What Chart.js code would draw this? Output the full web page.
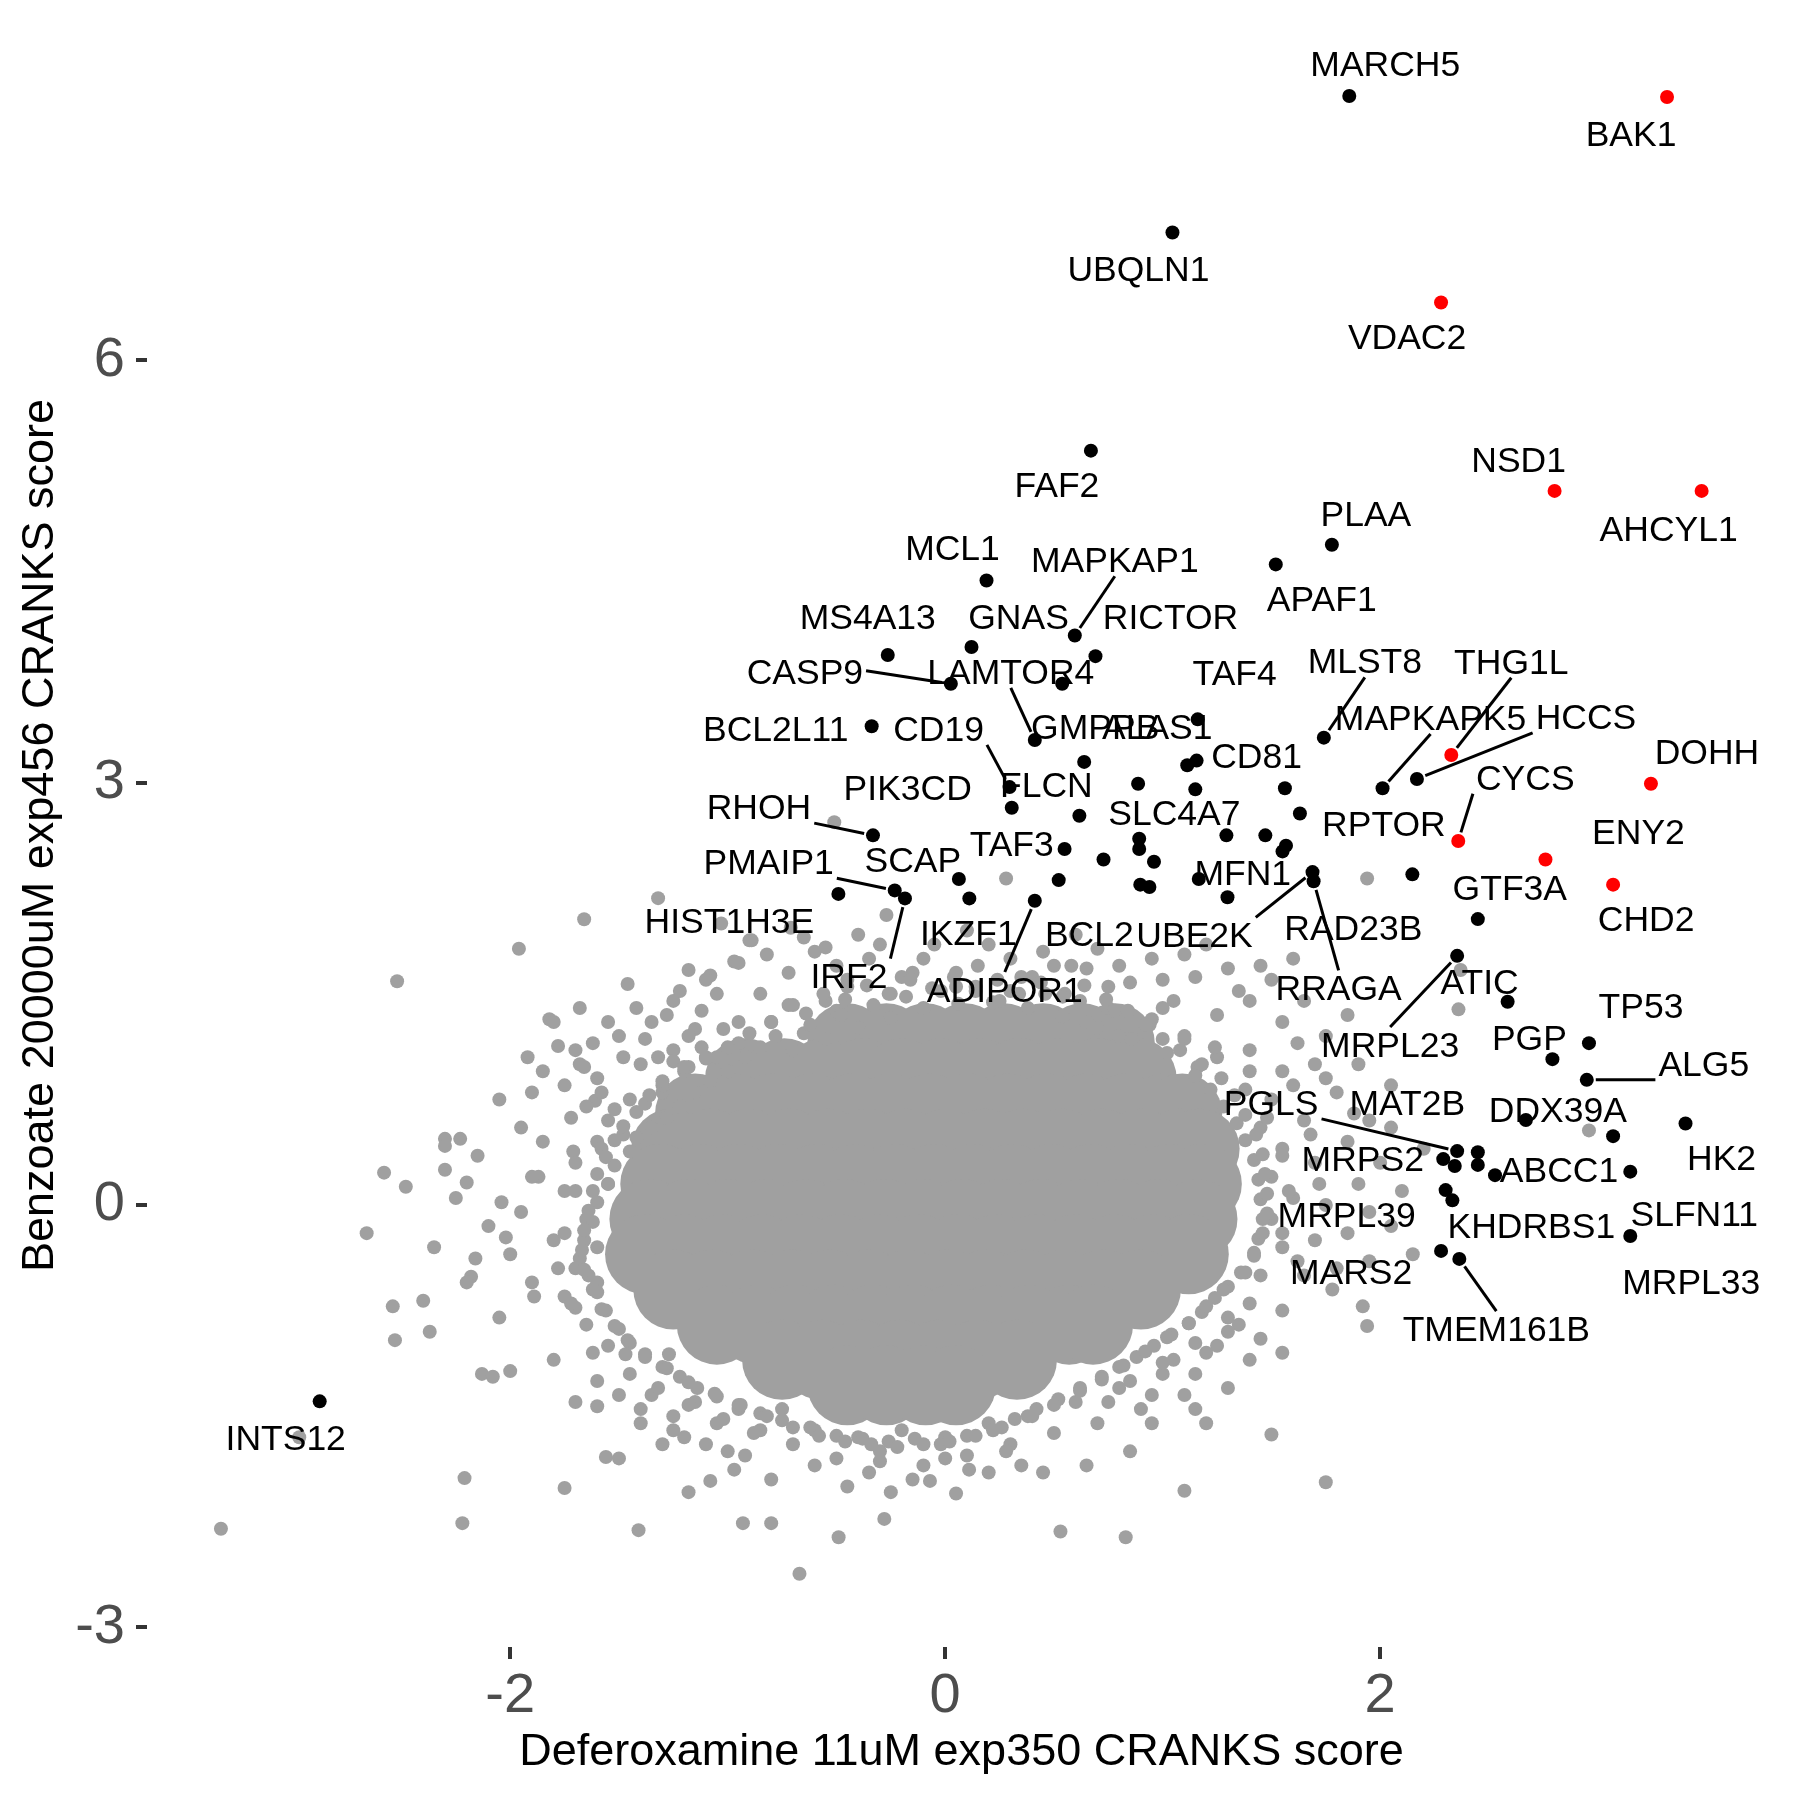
<!DOCTYPE html>
<html lang="en">
<head>
<meta charset="UTF-8">
<title>CRANKS score comparison</title>
<script src="https://cdn.jsdelivr.net/npm/chart.js"></script>
<style>
  html, body { margin: 0; padding: 0; background: #fff; }
  #wrap { width: 1800px; height: 1800px; }
</style>
</head>
<body>
<div id="wrap"><canvas id="scatter" width="1800" height="1800"></canvas></div>
<script>
// axis ticks
const xTicks = [-2, 0, 2];
const yTicks = [-3, 0, 3, 6];

// highlighted genes (x = Deferoxamine score, y = Benzoate score)
const geneNames = ['MARCH5', 'BAK1', 'UBQLN1', 'VDAC2', 'FAF2', 'NSD1', 'AHCYL1', 'PLAA', 'APAF1', 'MCL1',
  'MAPKAP1', 'GNAS', 'MS4A13', 'RICTOR', 'CASP9', 'LAMTOR4', 'TAF4', 'BCL2L11', 'GMPPB', 'MLST8',
  'THG1L', 'ALAS1', 'CD81', 'HCCS', 'DOHH', 'CD19', 'MAPKAPK5', 'PIK3CD', 'FLCN', 'RPTOR',
  'SLC4A7', 'RHOH', 'CYCS', 'ENY2', 'TAF3', 'SCAP', 'MFN1', 'RAD23B', 'UBE2K', 'RRAGA',
  'CHD2', 'BCL2', 'PMAIP1', 'HIST1H3E', 'IRF2', 'IKZF1', 'ADIPOR1', 'GTF3A', 'MRPL23', 'ATIC',
  'TP53', 'PGP', 'ALG5', 'DDX39A', 'HK2', 'PGLS', 'MAT2B', 'MRPS2', 'ABCC1', 'SLFN11',
  'MRPL39', 'KHDRBS1', 'MRPL33', 'MARS2', 'TMEM161B', 'INTS12'];
const geneX = [1.858, 3.319, 1.045, 2.280, 0.670, 2.802, 3.478, 1.778, 1.520, 0.190,
  0.596, 0.121, -0.264, 0.691, 0.026, 0.412, 1.161, -0.338, 0.538, 1.741,
  2.327, 1.113, 1.156, 2.169, 3.245, 0.296, 2.011, 0.306, 0.617, 1.631,
  1.293, -0.332, 2.359, 2.760, 0.522, 0.063, 1.166, 2.148, 1.689, 1.694,
  3.071, 0.897, -0.232, -0.491, -0.185, 0.111, 0.412, 2.449, 2.354, 2.586,
  2.960, 2.792, 2.950, 2.670, 3.404, 2.354, 2.290, 2.343, 2.528, 3.150,
  2.301, 2.332, 3.150, 2.280, 2.364, -2.876];
const geneY = [7.879, 7.871, 6.909, 6.411, 5.359, 5.073, 5.073, 4.690, 4.551, 4.437,
  4.046, 3.964, 3.907, 3.899, 3.703, 3.303, 3.450, 3.401, 3.703, 3.320,
  3.197, 3.124, 3.157, 3.026, 2.993, 2.969, 2.961, 2.822, 2.765, 2.781,
  2.626, 2.626, 2.586, 2.455, 2.308, 2.316, 2.316, 2.349, 2.365, 2.300,
  2.276, 2.276, 2.235, 2.210, 2.178, 2.178, 2.161, 2.031, 1.770, 1.444,
  1.150, 1.036, 0.889, 0.604, 0.579, 0.383, 0.326, 0.277, 0.212, 0.237,
  0.106, 0.033, -0.220, -0.326, -0.383, -1.395];
const redGenes = ['BAK1', 'VDAC2', 'NSD1', 'AHCYL1', 'THG1L', 'DOHH', 'CYCS', 'ENY2', 'CHD2'];

// hits whose labels were dropped
const extraHitX = [0.639, 0.887, 1.150, 1.562, 1.472, 0.549, 0.892, 0.892, 1.551, 1.567,
  0.728, 0.960, 0.939, 1.298, 2.449, 2.449, 3.071];
const extraHitY = [3.148, 2.993, 2.953, 2.961, 2.626, 2.529, 2.602, 2.529, 2.512, 2.553,
  2.455, 2.439, 2.259, 2.186, 0.375, 0.285, 0.489];

// the solid centre of the background cloud, one row per y value
const coreRows = [
  [1.15, [-0.45, -0.27, -0.09, 0.09, 0.27, 0.45, 0.63, 0.78]],
  [0.90, [-0.92, -0.74, -0.56, -0.38, -0.20, -0.02, 0.16, 0.34, 0.52, 0.70, 0.88]],
  [0.65, [-1.15, -0.97, -0.79, -0.61, -0.43, -0.25, -0.07, 0.11, 0.29, 0.47, 0.65, 0.83, 1.01, 1.09]],
  [0.40, [-1.26, -1.08, -0.90, -0.72, -0.54, -0.36, -0.18, 0.00, 0.18, 0.36, 0.54, 0.72, 0.90, 1.08, 1.17]],
  [0.15, [-1.31, -1.13, -0.95, -0.77, -0.59, -0.41, -0.23, -0.05, 0.13, 0.31, 0.49, 0.67, 0.85, 1.03, 1.18]],
  [-0.10, [-1.36, -1.18, -1.00, -0.82, -0.64, -0.46, -0.28, -0.10, 0.08, 0.26, 0.44, 0.62, 0.80, 0.98, 1.16]],
  [-0.35, [-1.38, -1.20, -1.02, -0.84, -0.66, -0.48, -0.30, -0.12, 0.06, 0.24, 0.42, 0.60, 0.78, 0.96, 1.12]],
  [-0.60, [-1.25, -1.07, -0.89, -0.71, -0.53, -0.35, -0.17, 0.01, 0.19, 0.37, 0.55, 0.73, 0.90]],
  [-0.85, [-1.05, -0.87, -0.69, -0.51, -0.33, -0.15, 0.03, 0.21, 0.39, 0.57, 0.68]],
  [-1.10, [-0.75, -0.57, -0.39, -0.21, -0.03, 0.15, 0.33]],
  [-1.28, [-0.45, -0.27, -0.09, 0.05]]
];

// background genes around the centre
const backgroundGenes = [
  // far outliers
  [-3.33, -2.30], [-2.97, -1.65], [-2.66, -0.20], [-2.58, 0.23], [-2.48, 0.13], [-2.52, 1.59], [-2.22, -2.26], [-2.21, -1.94],
  [-2.54, -0.72], [-2.53, -0.96], [-2.40, -0.68], [-2.37, -0.90], [-2.30, 0.47], [-2.30, 0.42], [-2.23, 0.47], [-2.20, 0.16],
  [-2.18, -0.51], [-2.16, -0.38], [-2.13, -1.20], [-2.08, -1.22], [-1.96, 1.82], [-2.04, 0.02], [-2.02, -0.23], [-2.00, -1.18],
  [-1.89, -0.65], [-1.87, 0.20], [-1.82, 1.32], [-1.78, 1.13], [-1.75, -2.01], [-1.71, 0.38], [-1.70, -0.73], [-1.66, 2.03],
  [-1.66, 0.98], [-1.61, 0.74], [-1.60, -1.43], [-1.56, -1.79], [-1.47, -1.06], [-1.46, 1.57], [-1.41, -2.31], [-1.32, 2.18],
  [-1.27, -1.06], [-1.20, -1.65], [-1.18, -2.04], [-1.08, -1.96], [-0.97, -1.88], [-0.93, -2.26], [-0.80, -2.26], [-0.67, -2.62],
  [-0.49, -2.36], [-0.28, -2.23], [-0.25, -2.04], [-0.07, -1.96], [0.11, -1.88], [0.53, -2.32], [0.83, -2.36], [1.10, -2.03],
  [1.50, -1.63], [1.75, -1.97], [1.94, -0.86], [1.92, -0.72], [1.94, 2.32], [-0.51, 2.72], [-1.03, 2.00], [-0.89, 1.88],
  [-0.71, 1.97], [-0.55, 1.83], [-0.27, 2.06], [0.28, 2.32], [-1.18, 1.67], [-1.08, 1.63], [-0.97, 1.73], [2.36, 1.39],
  [2.37, 1.67], [2.96, 0.53],
  // upper band
  [-1.25, 1.45], [-1.10, 1.60], [-0.95, 1.72], [-0.85, 1.50], [-0.72, 1.65], [-0.60, 1.80], [-0.55, 1.45], [-0.45, 1.60],
  [-0.35, 1.75], [-0.25, 1.50], [-0.15, 1.65], [-0.05, 1.85], [0.05, 1.55], [0.15, 1.70], [0.25, 1.45], [0.35, 1.62],
  [0.45, 1.80], [0.55, 1.50], [0.65, 1.68], [0.75, 1.40], [0.85, 1.58], [0.95, 1.75], [1.05, 1.45], [1.15, 1.62],
  [1.25, 1.35], [1.35, 1.52], [1.45, 1.70], [1.55, 1.30], [1.65, 1.45], [1.75, 1.20], [1.85, 1.35], [-0.90, 1.88],
  [0.10, 1.95], [0.60, 1.92], [1.20, 1.85], [1.60, 1.75], [-0.40, 1.92],
  [-0.95, 1.15], [-0.80, 1.30], [-0.65, 1.22], [-0.50, 1.38], [0.65, 1.30], [0.80, 1.20], [0.95, 1.32], [1.10, 1.18],
  [1.25, 1.05], [1.40, 1.10], [1.55, 0.95], [1.70, 1.00],
  [-0.82, 1.78], [-0.65, 1.90], [-0.50, 1.70], [-0.30, 1.85], [-0.10, 1.75], [0.20, 1.85], [0.30, 1.75], [0.50, 1.70],
  [0.70, 1.82], [0.80, 1.70], [1.00, 1.60], [1.10, 1.78], [1.30, 1.68], [1.40, 1.45], [1.50, 1.60],
  // upper left
  [-1.80, 1.30], [-1.70, 1.10], [-1.60, 0.90], [-1.50, 1.20], [-1.45, 0.75], [-1.40, 1.00], [-1.35, 1.30], [-1.30, 0.80],
  [-1.25, 1.10], [-1.20, 0.95], [-1.15, 1.25], [-1.10, 1.05], [-1.55, 0.60], [-1.65, 0.70], [-1.85, 0.95], [-1.95, 0.55],
  [-2.05, 0.75],
  [-1.75, 0.85], [-1.68, 1.00], [-1.62, 1.15], [-1.55, 1.30], [-1.48, 1.05], [-1.42, 1.40], [-1.38, 1.18], [-1.32, 1.05],
  [-1.28, 1.35], [-1.22, 1.52], [-1.18, 1.20], [-1.12, 1.38], [-1.05, 1.50], [-1.02, 1.25], [-1.58, 0.80], [-1.52, 0.68],
  [-1.72, 0.62], [-1.90, 0.80], [-1.92, 1.05], [-1.68, 1.40],
  // left
  [-1.60, 0.45], [-1.70, 0.30], [-1.75, 0.10], [-1.65, -0.10], [-1.80, -0.25], [-1.70, -0.45], [-1.75, -0.65], [-1.65, -0.85],
  [-1.90, 0.20], [-1.95, -0.05], [-2.00, -0.35], [-1.90, -0.55], [-2.05, -0.80], [-2.15, 0.35], [-2.10, -0.15], [-2.25, 0.05],
  [-2.20, -0.55], [-2.30, 0.25], [-2.35, -0.30], [-1.85, 0.45], [-1.60, -0.55], [-1.55, 0.15], [-1.60, -0.30],
  // lower left
  [-1.55, -1.00], [-1.45, -1.20], [-1.35, -1.35], [-1.25, -1.50], [-1.15, -1.40], [-1.05, -1.55], [-1.40, -1.55], [-1.60, -1.25],
  [-1.80, -1.10], [-1.70, -1.40], [-1.30, -1.70], [-1.00, -1.75], [-1.50, -1.80],
  [-1.62, -1.05], [-1.50, -1.35], [-1.40, -1.45], [-1.25, -1.60], [-1.10, -1.70], [-0.92, -1.78], [-0.60, -1.85], [-0.35, -1.90],
  [-0.15, -1.95], [0.20, -1.90], [0.35, -1.85],
  // bottom
  [-0.95, -1.45], [-0.85, -1.60], [-0.75, -1.45], [-0.70, -1.70], [-0.60, -1.60], [-0.50, -1.80], [-0.40, -1.65], [-0.30, -1.75],
  [-0.20, -1.60], [-0.10, -1.85], [0.00, -1.65], [0.10, -1.78], [0.20, -1.55], [0.30, -1.70], [0.40, -1.50], [0.50, -1.62],
  [0.60, -1.40], [0.70, -1.55], [0.80, -1.30], [0.90, -1.45], [1.00, -1.20], [1.10, -1.35], [-0.80, -1.95], [-0.45, -2.00],
  [0.05, -2.05], [0.45, -1.90], [0.85, -1.75], [1.20, -1.55], [0.65, -1.85],
  // lower right
  [0.75, -1.40], [0.85, -1.25], [0.95, -1.35], [1.05, -1.10], [1.15, -1.20], [1.25, -1.00], [1.35, -0.85], [1.40, -1.10],
  [1.30, -1.30], [1.15, -1.45], [0.95, -1.55], [1.45, -0.95], [1.55, -1.05],
  // right
  [1.40, 0.95], [1.50, 0.75], [1.45, 0.55], [1.55, 0.40], [1.50, 0.20], [1.60, 0.05], [1.50, -0.10], [1.55, -0.30],
  [1.45, -0.50], [1.40, -0.70], [1.30, -0.90], [1.20, -1.05], [1.65, 0.60], [1.70, 0.30], [1.75, 0.00], [1.70, -0.25],
  [1.65, -0.50], [1.55, -0.75], [1.80, 0.80], [1.85, 0.45], [1.90, 0.15], [1.85, -0.20], [1.80, -0.45], [1.95, 0.60],
  [2.00, 0.30], [2.10, 0.10], [2.05, -0.15], [1.95, -0.40], [1.90, 1.00], [2.05, 0.85], [2.20, 0.40], [2.15, -0.35],
  [1.60, 0.85], [1.68, 0.50], [1.72, 0.15], [1.62, -0.40], [1.78, -0.60], [1.88, 0.65], [1.95, -0.05], [2.05, 0.55],
  [1.62, 1.15], [1.75, 0.90],
  // ring hugging the centre
  [-0.92, 1.05], [-0.85, 1.12], [-0.78, 1.20], [-0.70, 1.10], [-0.62, 1.28], [-0.55, 1.18], [-0.48, 1.35], [-0.40, 1.26],
  [-0.33, 1.42], [-0.25, 1.33], [-0.18, 1.48], [-0.10, 1.40], [-0.02, 1.52], [0.06, 1.43], [0.14, 1.55], [0.22, 1.44],
  [0.30, 1.52], [0.38, 1.40], [0.46, 1.50], [0.54, 1.34], [0.62, 1.45], [0.70, 1.26], [0.78, 1.38], [0.86, 1.18],
  [0.94, 1.28], [1.02, 1.08], [1.10, 1.20], [1.16, 0.98], [1.24, 1.12], [-0.70, 1.42], [-0.45, 1.55], [0.05, 1.65],
  [0.40, 1.62], [0.75, 1.55], [1.00, 1.40], [-0.95, 1.30], [-0.20, 1.62], [0.58, 1.70],
  [-1.00, 0.95], [-1.08, 0.88], [-1.15, 0.80], [-1.22, 0.70], [-1.28, 0.62], [-1.05, 1.05], [-1.18, 0.98], [-1.30, 0.85],
  [-1.38, 0.72], [-1.35, 0.55], [-1.42, 0.48], [-1.12, 1.12], [-1.25, 1.02],
  [-1.45, 0.38], [-1.52, 0.28], [-1.55, 0.15], [-1.60, 0.02], [-1.62, -0.12], [-1.66, -0.25], [-1.68, -0.38], [-1.64, -0.50],
  [-1.60, -0.62], [-1.56, -0.75], [-1.50, -0.88], [-1.58, 0.40], [-1.70, 0.10], [-1.75, -0.20], [-1.78, -0.45], [-1.72, -0.70],
  [-1.48, 0.50],
  [-1.45, -0.98], [-1.38, -1.08], [-1.30, -1.15], [-1.22, -1.22], [-1.14, -1.30], [-1.05, -1.36], [-0.95, -1.42], [-0.85, -1.48],
  [-0.75, -1.53], [-1.32, -1.30], [-1.18, -1.42], [-1.02, -1.52], [-0.88, -1.62],
  [-0.62, -1.58], [-0.50, -1.64], [-0.38, -1.66], [-0.26, -1.68], [-0.14, -1.66], [-0.02, -1.70], [0.10, -1.64], [0.22, -1.60],
  [0.32, -1.52], [0.42, -1.45], [0.52, -1.38], [0.62, -1.30], [0.72, -1.22], [-0.30, -1.82], [0.00, -1.80], [0.28, -1.75],
  [0.80, -1.15], [0.88, -1.08], [0.96, -1.00], [1.04, -0.92], [1.12, -0.84], [1.18, -0.76], [1.24, -0.66], [1.30, -0.58],
  [1.00, -1.12], [1.15, -0.98], [1.30, -0.80],
  [1.38, -0.48], [1.42, -0.36], [1.44, -0.24], [1.46, -0.10], [1.45, 0.04], [1.44, 0.18], [1.42, 0.32], [1.38, 0.46],
  [1.34, 0.58], [1.28, 0.70], [1.22, 0.82], [1.15, 0.92], [1.55, -0.20], [1.58, 0.10], [1.55, 0.35], [1.48, 0.62],
  [1.38, 0.82],
  // outer edge of the dense part
  [-0.80, 1.30], [-0.72, 1.42], [-0.64, 1.36], [-0.56, 1.50], [-0.46, 1.46], [-0.36, 1.56], [-0.26, 1.50], [-0.16, 1.60],
  [-0.06, 1.54], [0.04, 1.62], [0.14, 1.52], [0.24, 1.60], [0.34, 1.50], [0.44, 1.58], [0.54, 1.48], [0.64, 1.56],
  [0.74, 1.46], [0.84, 1.38], [0.92, 1.28], [1.00, 1.18], [1.08, 1.10], [-0.90, 1.22], [-1.00, 1.12], [-1.10, 1.04],
  [-1.20, 0.98], [-1.30, 0.88], [-1.36, 0.78], [-1.42, 0.66], [-1.48, 0.56], [-1.52, 0.46],
  [-1.56, 0.34], [-1.60, 0.22], [-1.62, 0.10], [-1.64, -0.04], [-1.66, -0.18], [-1.67, -0.32], [-1.66, -0.46], [-1.62, -0.60],
  [-1.58, -0.74], [-1.52, -0.86], [-1.46, -0.96],
  [-1.38, -1.06], [-1.28, -1.16], [-1.18, -1.26], [-1.06, -1.34], [-0.94, -1.42], [-0.82, -1.50], [-0.70, -1.58],
  [-0.58, -1.64], [-0.46, -1.68], [-0.34, -1.70], [-0.22, -1.72], [-0.10, -1.70], [0.02, -1.68], [0.14, -1.64], [0.26, -1.58],
  [0.38, -1.50], [0.50, -1.42], [0.62, -1.32], [0.72, -1.24],
  [0.82, -1.14], [0.92, -1.04], [1.02, -0.94], [1.12, -0.84], [1.20, -0.72], [1.28, -0.60],
  [1.36, -0.48], [1.42, -0.34], [1.46, -0.20], [1.48, -0.06], [1.48, 0.08], [1.47, 0.22], [1.46, 0.36], [1.43, 0.50],
  [1.38, 0.64], [1.33, 0.78], [1.27, 0.90], [1.18, 1.00]
];

// labels with a leader line
const leaderGenes = ['MAPKAP1', 'CASP9', 'LAMTOR4', 'CD19', 'MLST8', 'THG1L', 'MAPKAPK5', 'HCCS', 'CYCS', 'RHOH',
  'PMAIP1', 'IRF2', 'ADIPOR1', 'UBE2K', 'RRAGA', 'MRPL23', 'ALG5', 'PGLS', 'TMEM161B'];

// repelled label placement, pixel offset of the label centre from its point
const labelNudge = {
  MARCH5: [36, -33], BAK1: [-36, 36], UBQLN1: [-34, 36], VDAC2: [-34, 34], FAF2: [-34, 34],
  NSD1: [-36, -32], AHCYL1: [-33, 37], PLAA: [34, -32], APAF1: [46, 34], MCL1: [-34, -33],
  MAPKAP1: [40, -76], GNAS: [47, -31], MS4A13: [-20, -39], RICTOR: [75, -40], CASP9: [-146, -13],
  LAMTOR4: [-24, -69], TAF4: [37, -47], BCL2L11: [-96, 2], GMPPB: [33, 42], MLST8: [41, -77],
  THG1L: [60, -94], ALAS1: [-30, -39], CD81: [60, -5], HCCS: [169, -63], DOHH: [56, -32],
  CD19: [-71, -59], MAPKAPK5: [48, -71], PIK3CD: [-104, -21], FLCN: [-33, -32], RPTOR: [84, 10],
  SLC4A7: [-52, -23], RHOH: [-114, -29], CYCS: [67, -64], ENY2: [93, -28], TAF3: [-47, -37],
  SCAP: [-46, -20], MFN1: [44, -7], RAD23B: [-59, 53], UBE2K: [-118, 62], RRAGA: [25, 106],
  CHD2: [33, 34], BCL2: [-51, 49], PMAIP1: [-126, -29], HIST1H3E: [-109, 26], IRF2: [-56, 77],
  IKZF1: [-1, 34], ADIPOR1: [-30, 88], GTF3A: [32, -32], MRPL23: [-67, 88], ATIC: [-28, -21],
  TP53: [52, -38], PGP: [-23, -22], ALG5: [117, -17], DDX39A: [32, -11], HK2: [36, 34],
  PGLS: [-186, -49], MAT2B: [-36, -57], MRPS2: [-92, -8], ABCC1: [64, -6], SLFN11: [64, 42],
  MRPL39: [-99, 24], KHDRBS1: [79, 25], MRPL33: [61, 45], MARS2: [-90, 20], TMEM161B: [37, 69],
  INTS12: [-34, 36]
};

const GREY = '#a0a0a0';
const LABEL_SIZE = 35.5;
const FONT = '"Liberation Sans", Arial, Helvetica, sans-serif';

const blackHits = [];
const redHits = [];
geneNames.forEach((g, i) => {
  const pt = {x: geneX[i], y: geneY[i]};
  if (redGenes.includes(g)) redHits.push(pt); else blackHits.push(pt);
});
extraHitX.forEach((v, i) => blackHits.push({x: v, y: extraHitY[i]}));

const corePoints = [];
coreRows.forEach(([yv, xs]) => xs.forEach(xv => corePoints.push({x: xv, y: yv})));

const geneLabels = {
  id: 'geneLabels',
  afterDatasetsDraw(chart) {
    const {ctx} = chart;
    const xs = chart.scales.x, ys = chart.scales.y;
    ctx.save();
    ctx.font = LABEL_SIZE + 'px ' + FONT;
    ctx.fillStyle = '#000';
    ctx.strokeStyle = '#000';
    ctx.lineWidth = 3;
    ctx.textAlign = 'center';
    ctx.textBaseline = 'alphabetic';
    geneNames.forEach((g, i) => {
      const nudge = labelNudge[g];
      if (!nudge) return;
      const px = xs.getPixelForValue(geneX[i]);
      const py = ys.getPixelForValue(geneY[i]);
      const lx = px + nudge[0];
      const ly = py + nudge[1];
      if (leaderGenes.includes(g)) {
        // leader leaves the label box from a corner or an edge middle
        const hw = ctx.measureText(g).width / 2 + 3;
        const hh = LABEL_SIZE * 0.36 + 4;
        const sx = px < lx - hw ? lx - hw : (px > lx + hw ? lx + hw : lx);
        const sy = py < ly - hh ? ly - hh : (py > ly + hh ? ly + hh : ly);
        const dx = px - sx, dy = py - sy;
        const len = Math.hypot(dx, dy);
        if (len > 14) {
          ctx.beginPath();
          ctx.moveTo(sx, sy);
          ctx.lineTo(px - dx / len * 9, py - dy / len * 9);
          ctx.stroke();
        }
      }
      ctx.fillText(g, lx, ly + LABEL_SIZE * 0.36);
    });
    ctx.restore();
  }
};

new Chart(document.getElementById('scatter'), {
  type: 'scatter',
  data: {
    datasets: [
      {
        label: 'core',
        data: corePoints,
        pointRadius: 40,
        backgroundColor: GREY,
        borderWidth: 0,
        order: 5
      },
      {
        label: 'background',
        data: backgroundGenes.map(p => ({x: p[0], y: p[1]})),
        pointRadius: 7,
        backgroundColor: GREY,
        borderWidth: 0,
        order: 4
      },
      {
        label: 'hits',
        data: blackHits,
        pointRadius: 7,
        backgroundColor: '#000000',
        borderWidth: 0,
        order: 2
      },
      {
        label: 'red hits',
        data: redHits,
        pointRadius: 7,
        backgroundColor: '#ff0000',
        borderWidth: 0,
        order: 1
      }
    ]
  },
  options: {
    responsive: false,
    animation: false,
    events: [],
    layout: { autoPadding: false, padding: { top: 24, right: 24, left: 0, bottom: 0 } },
    plugins: {
      legend: { display: false },
      tooltip: { enabled: false }
    },
    scales: {
      x: {
        type: 'linear',
        min: -3.67,
        max: 3.82,
        afterFit: s => { s.height = 153; s.paddingLeft = 0; s.paddingRight = 0; },
        afterBuildTicks: s => { s.ticks = xTicks.map(v => ({value: v})); },
        grid: { drawOnChartArea: false, drawTicks: true, tickLength: 12, color: '#333333', lineWidth: 4 },
        border: { display: false },
        ticks: { color: '#4d4d4d', font: { family: FONT, size: 56 }, padding: 4, maxRotation: 0 },
        title: {
          display: true,
          text: 'Deferoxamine 11uM exp350 CRANKS score',
          color: '#000',
          font: { family: FONT, size: 45 },
          padding: { top: 0, bottom: 20 }
        }
      },
      y: {
        type: 'linear',
        min: -3.14,
        max: 8.39,
        afterFit: s => { s.width = 147; s.paddingTop = 0; s.paddingBottom = 0; },
        afterBuildTicks: s => { s.ticks = yTicks.map(v => ({value: v})); },
        grid: { drawOnChartArea: false, drawTicks: true, tickLength: 11, color: '#333333', lineWidth: 4 },
        border: { display: false },
        ticks: { color: '#4d4d4d', font: { family: FONT, size: 56 }, padding: 11 },
        title: {
          display: true,
          text: 'Benzoate 20000uM exp456 CRANKS score',
          color: '#000',
          font: { family: FONT, size: 45 },
          padding: { top: 14, bottom: 0 }
        }
      }
    }
  },
  plugins: [geneLabels]
});
</script>
</body>
</html>
